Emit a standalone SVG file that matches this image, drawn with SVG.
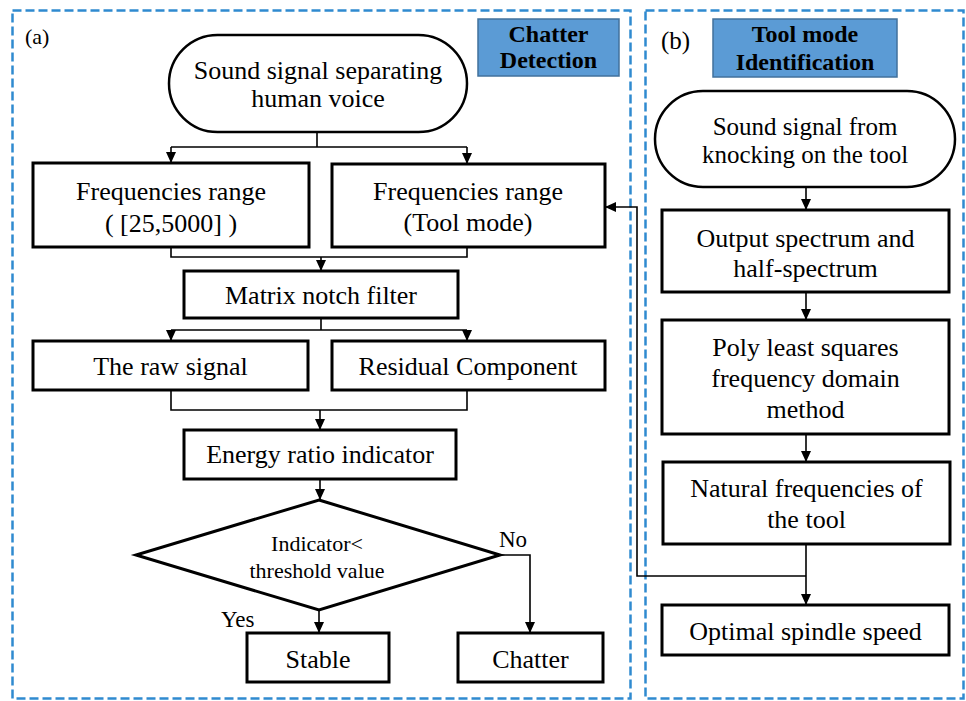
<svg xmlns="http://www.w3.org/2000/svg" width="966" height="701" viewBox="0 0 966 701">
<defs>
<marker id="ah" markerUnits="userSpaceOnUse" markerWidth="11" markerHeight="10" refX="11" refY="5" orient="auto">
<path d="M0,0 L11,5 L0,10 z" fill="#000"/>
</marker>
<style>
.panel{fill:none;stroke:#2f8ad0;stroke-width:2.5;stroke-dasharray:9 4}
.title{fill:#5b9bd5;stroke:#41719c;stroke-width:1.5}
.box{fill:#fff;stroke:#000;stroke-width:3}
.pill{fill:#fff;stroke:#000;stroke-width:2.5}
text{font-family:'Liberation Serif','DejaVu Serif',serif;fill:#000}
.t{font-size:26px;text-anchor:middle}
.tb{font-size:24px;font-weight:bold;text-anchor:middle}
.ts{font-size:22px}
.lab{font-size:23px}
.c{fill:none;stroke:#000;stroke-width:1.6}
.ca{fill:none;stroke:#000;stroke-width:1.6;marker-end:url(#ah)}
</style>
</defs>
<rect width="966" height="701" fill="#fff"/>

<g id="panel-a">
<rect class="panel" x="12.5" y="10.5" width="618" height="688"/>
<text class="lab" x="25" y="44" style="font-size:22px">(a)</text>
</g>
<g id="panel-b">
<rect class="panel" x="645.5" y="10.5" width="318" height="688"/>
<text class="lab" x="661" y="49" style="font-size:25px">(b)</text>
</g>

<g id="title-chatter">
<rect class="title" x="478" y="19" width="141" height="57"/>
<text class="tb" x="548.5" y="42">Chatter</text>
<text class="tb" x="548.5" y="68">Detection</text>
</g>
<g id="title-tool">
<rect class="title" x="713" y="19" width="184" height="58"/>
<text class="tb" x="805" y="42">Tool mode</text>
<text class="tb" x="805" y="70">Identification</text>
</g>

<g id="connectors">
<path class="c" d="M317,132 V147 M171,147 H467"/>
<path class="ca" d="M171,147 V163"/>
<path class="ca" d="M467,147 V164"/>
<path class="c" d="M171,247 V257 H467 V247"/>
<path class="ca" d="M321,257 V271"/>
<path class="c" d="M321,318 V330 M171,330 H467"/>
<path class="ca" d="M171,330 V341"/>
<path class="ca" d="M467,330 V341"/>
<path class="c" d="M171,390 V410 H467 V390"/>
<path class="ca" d="M320,410 V430"/>
<path class="ca" d="M320,479 V500"/>
<path class="ca" d="M319,610 V633"/>
<path class="ca" d="M500,555 H530 V633"/>
<path class="ca" d="M806,187 V210"/>
<path class="ca" d="M806,292 V320"/>
<path class="ca" d="M806,434 V462"/>
<path class="ca" d="M806,544 V605"/>
<path class="ca" d="M806,576 H637 V207 H605"/>
</g>

<g id="n-sound-a">
<rect class="pill" x="169" y="35" width="298" height="97" rx="48.5"/>
<text class="t" x="318" y="79">Sound signal separating</text>
<text class="t" x="318" y="107">human voice</text>
</g>
<g id="n-freq-range">
<rect class="box" x="33" y="163" width="276" height="84"/>
<text class="t" x="171" y="200">Frequencies range</text>
<text class="t" x="171" y="232">( [25,5000] )</text>
</g>
<g id="n-freq-tool">
<rect class="box" x="332" y="164" width="273" height="83"/>
<text class="t" x="468" y="200">Frequencies range</text>
<text class="t" x="468" y="231">(Tool mode)</text>
</g>
<g id="n-matrix">
<rect class="box" x="184" y="271" width="274" height="47"/>
<text class="t" x="321" y="304">Matrix notch filter</text>
</g>
<g id="n-raw">
<rect class="box" x="33" y="341" width="275" height="49"/>
<text class="t" x="170.5" y="375">The raw signal</text>
</g>
<g id="n-residual">
<rect class="box" x="332" y="341" width="273" height="49"/>
<text class="t" x="468" y="375">Residual Component</text>
</g>
<g id="n-energy">
<rect class="box" x="184" y="430" width="272" height="49"/>
<text class="t" x="320" y="463">Energy ratio indicator</text>
</g>
<g id="n-decision">
<polygon class="box" points="319,500 500,555 319,610 136,555"/>
<text class="t ts" x="317" y="551">Indicator&lt;</text>
<text class="t ts" x="317" y="578">threshold value</text>
<text class="lab" x="499" y="547">No</text>
<text class="lab" x="221" y="627">Yes</text>
</g>
<g id="n-stable">
<rect class="box" x="247" y="633" width="142" height="49"/>
<text class="t" x="318" y="668">Stable</text>
</g>
<g id="n-chatter">
<rect class="box" x="458" y="633" width="145" height="49"/>
<text class="t" x="530.5" y="668">Chatter</text>
</g>

<g id="n-sound-b">
<rect class="pill" x="655" y="91" width="300" height="96" rx="48"/>
<text class="t" x="805" y="135" style="font-size:25px">Sound signal from</text>
<text class="t" x="805" y="163" style="font-size:25px">knocking on the tool</text>
</g>
<g id="n-spectrum">
<rect class="box" x="662" y="210" width="287" height="82"/>
<text class="t" x="805.5" y="247">Output spectrum and</text>
<text class="t" x="805.5" y="277">half-spectrum</text>
</g>
<g id="n-poly">
<rect class="box" x="662" y="320" width="287" height="114"/>
<text class="t" x="805.5" y="356">Poly least squares</text>
<text class="t" x="805.5" y="387">frequency domain</text>
<text class="t" x="805.5" y="418">method</text>
</g>
<g id="n-natural">
<rect class="box" x="663" y="462" width="287" height="82"/>
<text class="t" x="806.5" y="497">Natural frequencies of</text>
<text class="t" x="806.5" y="528">the tool</text>
</g>
<g id="n-optimal">
<rect class="box" x="662" y="605" width="287" height="50"/>
<text class="t" x="805.5" y="640">Optimal spindle speed</text>
</g>
</svg>
